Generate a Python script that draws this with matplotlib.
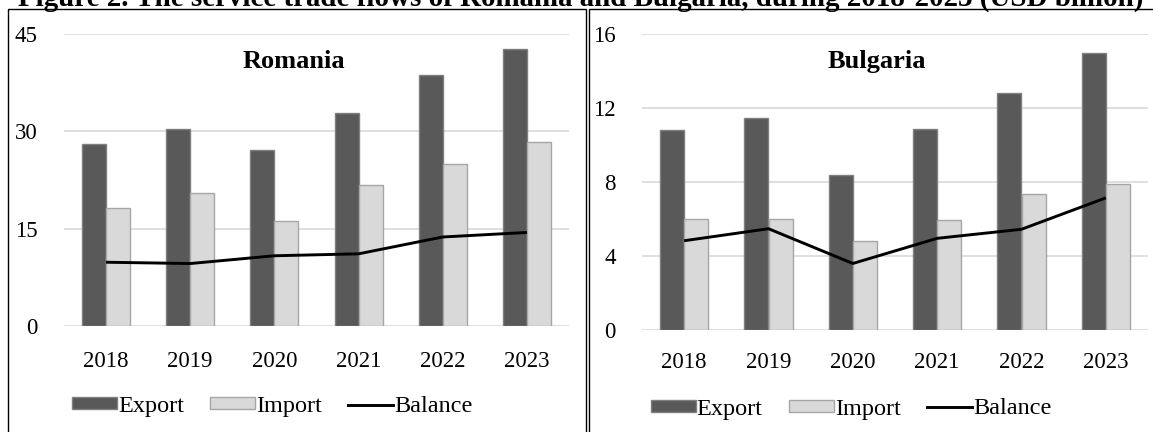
import numpy as np
import matplotlib
matplotlib.use("Agg")
import matplotlib.pyplot as plt
from matplotlib.patches import Rectangle, Patch
from matplotlib.lines import Line2D

# --- data (USD billion) ---
years = ["2018", "2019", "2020", "2021", "2022", "2023"]

ro_export = [28.1, 30.3, 27.1, 32.8, 38.7, 42.7]
ro_import = [18.1, 20.5, 16.2, 21.7, 25.0, 28.3]
ro_balance = [9.8, 9.6, 10.8, 11.1, 13.7, 14.4]

bg_export = [10.8, 11.45, 8.4, 10.9, 12.8, 15.0]
bg_import = [6.0, 6.0, 4.8, 5.95, 7.35, 7.9]
bg_balance = [4.83, 5.48, 3.6, 4.96, 5.45, 7.15]

plt.rcParams["font.family"] = ["Liberation Serif", "DejaVu Serif"]

W, H = 1153, 432
fig = plt.figure(figsize=(W / 100, H / 100), dpi=100)

EXP_C, EXP_E = "#595959", "#808080"
IMP_C, IMP_E = "#d9d9d9", "#a6a6a6"
GRID_C = "#d9d9d9"
bw = 0.285
TICK_FS = 16.5


def px(x0, y0, x1, y1):
    # pixel box -> figure fraction [left, bottom, width, height]
    return [x0 / W, 1 - y1 / H, (x1 - x0) / W, (y1 - y0) / H]


def panel(rect, exp, imp, bal, ymax, step, xpad):
    ax = fig.add_axes(rect)
    x = np.arange(len(years))
    ax.bar(x - bw / 2, exp, bw, color=EXP_C, edgecolor=EXP_E, linewidth=1, zorder=2)
    ax.bar(x + bw / 2, imp, bw, color=IMP_C, edgecolor=IMP_E, linewidth=1, zorder=2)
    ax.plot(x, bal, color="black", linewidth=2.1, zorder=3, solid_capstyle="butt")
    ax.set_xlim(-0.5, len(years) - 0.5)
    ax.set_ylim(0, ymax)
    ax.set_yticks(np.arange(0, ymax + step / 2, step))
    ax.set_xticks(x)
    ax.set_xticklabels(years)
    ax.yaxis.grid(True, color=GRID_C, linewidth=1.2, zorder=0)
    ax.set_axisbelow(True)
    for s in ax.spines.values():
        s.set_visible(False)
    ax.tick_params(axis="y", length=0, pad=19, labelsize=TICK_FS)
    ax.tick_params(axis="x", length=0, pad=xpad, labelsize=TICK_FS)
    return ax


ax1 = panel(px(64, 34.3, 569, 325.7), ro_export, ro_import, ro_balance, 45, 15, 18)
ax2 = panel(px(642, 34.3, 1148, 330), bg_export, bg_import, bg_balance, 16, 4, 16)

fig.text(294 / W, 1 - 61.7 / H, "Romania", ha="center", va="center",
         fontsize=19, fontweight="bold")
fig.text(877 / W, 1 - 61.7 / H, "Bulgaria", ha="center", va="center",
         fontsize=19, fontweight="bold")

# chart borders
fig.add_artist(Rectangle((8 / W, -0.05), (586 - 8) / W, 1.05 - 9 / H,
                         transform=fig.transFigure, fill=False,
                         edgecolor="black", linewidth=1.0))
fig.add_artist(Rectangle((589 / W, -0.05), 0.6, 1.05 - 9 / H,
                         transform=fig.transFigure, fill=False,
                         edgecolor="black", linewidth=1.0))

# figure title, running off the top edge
fig.text(18 / W, 1 - 6 / H, "Figure 2. The service trade flows of Romania and Bulgaria, "
         "during 2018-2023 (USD billion)", ha="left", va="baseline",
         fontsize=20.9, fontweight="bold")

handles = [
    Patch(facecolor=EXP_C, edgecolor=EXP_E, linewidth=1),
    Patch(facecolor=IMP_C, edgecolor=IMP_E, linewidth=1),
    Line2D([0], [0], color="black", linewidth=2.1),
]
labels = ["Export", "Import", "Balance"]
for ax, cx, cy in ((ax1, 272.5, 406.5), (ax2, 851, 409)):
    ax.legend(handles, labels, loc="center", bbox_to_anchor=(cx / W, 1 - cy / H),
              bbox_transform=fig.transFigure, ncol=3, frameon=False,
              fontsize=17.5, handlelength=1.85, handleheight=0.4,
              handletextpad=0.05, columnspacing=1.07, borderpad=0)

fig.savefig("out.png", dpi=100)
